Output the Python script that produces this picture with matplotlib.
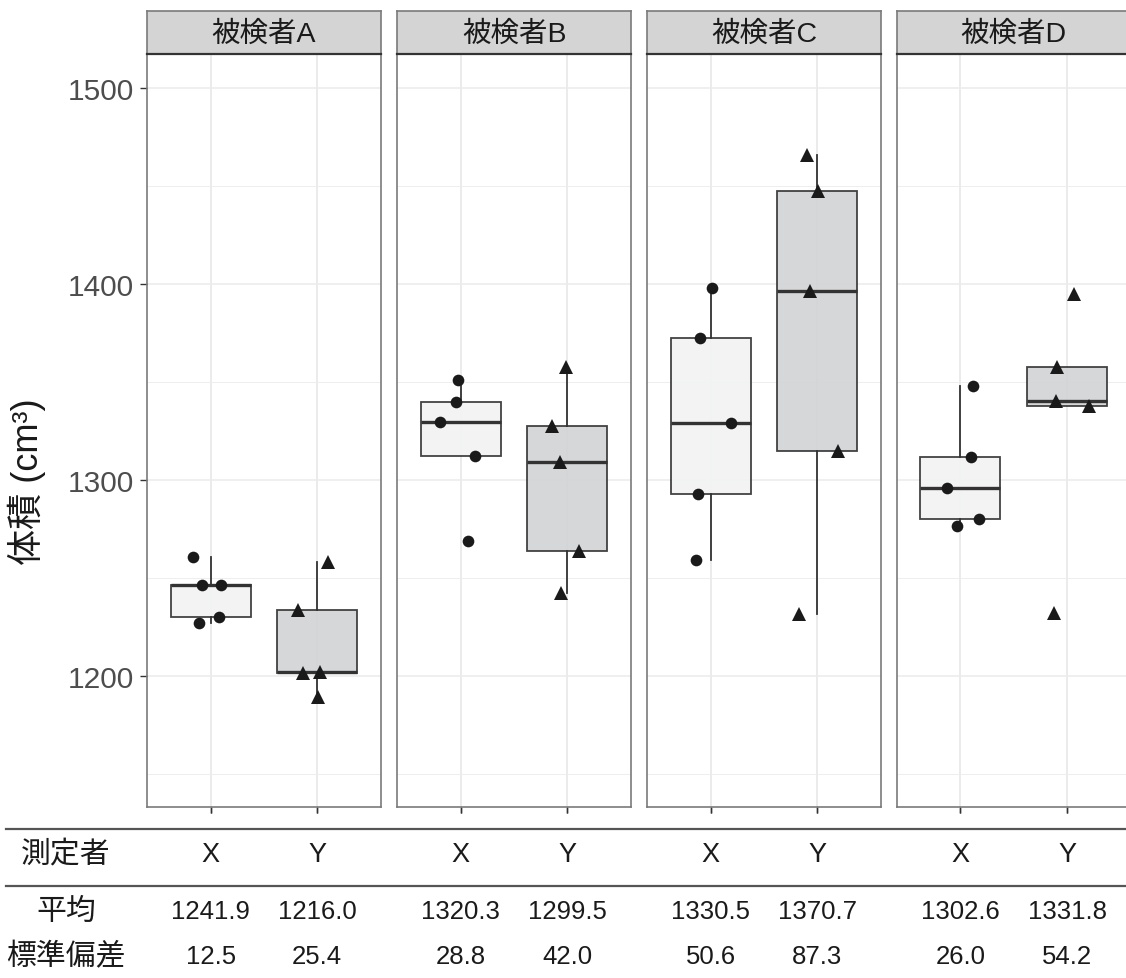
import matplotlib
matplotlib.use("Agg")
import matplotlib.pyplot as plt
from matplotlib.lines import Line2D
from matplotlib.transforms import blended_transform_factory
from matplotlib.ticker import MultipleLocator

plt.rcParams['font.family'] = ['Liberation Sans', 'Noto Sans CJK JP', 'DejaVu Sans']

# ---------------- data ----------------
subjects = ['被検者A', '被検者B', '被検者C', '被検者D']
raters = ['X', 'Y']

A_X = [1260.9, 1246.4, 1246.4, 1226.9, 1229.9]
A_Y = [1258.0, 1233.7, 1201.4, 1201.9, 1189.1]
B_X = [1351.0, 1340.0, 1329.8, 1312.4, 1268.7]
B_Y = [1357.5, 1327.4, 1309.0, 1264.0, 1242.2]
C_X = [1398.1, 1372.3, 1329.1, 1293.0, 1259.3]
C_Y = [1465.8, 1447.6, 1396.4, 1315.0, 1231.6]
D_X = [1348.0, 1311.9, 1295.9, 1280.1, 1276.7]
D_Y = [1394.9, 1357.8, 1340.1, 1337.9, 1232.1]

# horizontal jitter of the points (category units)
A_X_jit = [-0.163, -0.079, 0.097, -0.110, 0.081]
A_Y_jit = [0.104, -0.180, -0.136, 0.026, 0.010]
B_X_jit = [-0.030, -0.046, -0.196, 0.132, 0.069]
B_Y_jit = [-0.013, -0.144, -0.069, 0.106, -0.063]
C_X_jit = [0.009, -0.103, 0.190, -0.122, -0.138]
C_Y_jit = [-0.098, 0.010, -0.065, 0.195, -0.168]
D_X_jit = [0.114, 0.101, -0.129, 0.171, -0.033]
D_Y_jit = [0.066, -0.091, -0.106, 0.206, -0.122]

means = [['1241.9', '1216.0'], ['1320.3', '1299.5'], ['1330.5', '1370.7'], ['1302.6', '1331.8']]
sds = [['12.5', '25.4'], ['28.8', '42.0'], ['50.6', '87.3'], ['26.0', '54.2']]

row_labels = ['測定者', '平均', '標準偏差']
y_ticks = [1200, 1300, 1400, 1500]
y_label = '体積 (cm³)'

values = [[A_X, A_Y], [B_X, B_Y], [C_X, C_Y], [D_X, D_Y]]
jitters = [[A_X_jit, A_Y_jit], [B_X_jit, B_Y_jit], [C_X_jit, C_Y_jit], [D_X_jit, D_Y_jit]]

# ---------------- layout ----------------
W, H = 1126, 979
fig = plt.figure(figsize=(W / 100, H / 100), dpi=100)

def fx(px):
    return px / W

def fy(py):
    return 1 - py / H

panel_left = [146.7, 396.9, 646.7, 896.5]
panel_w = 234.5
panel_top, panel_bot = 55.0, 808.3
strip_top = 12.0

box_fill = ['#f2f3f3', '#d3d4d6']
markers = ['o', '^']
msizes = [8.4, 10.2]
dark = '#333333'

axes = []
for i, subj in enumerate(subjects):
    ax = fig.add_axes([fx(panel_left[i]), fy(panel_bot), fx(panel_w),
                       (panel_bot - panel_top) / H])
    axes.append(ax)
    ax.set_xlim(0.4, 2.6)
    ax.set_ylim(1133.0, 1517.3)
    ax.yaxis.set_major_locator(MultipleLocator(100))
    ax.yaxis.set_minor_locator(MultipleLocator(50))
    ax.set_xticks([1, 2])
    ax.grid(True, which='major', color='#ebebeb', lw=1.1, zorder=0)
    ax.grid(True, which='minor', axis='y', color='#ebebeb', lw=0.6, zorder=0)
    ax.set_axisbelow(True)
    for sp in ax.spines.values():
        sp.set_color('#7a7a7a')
        sp.set_linewidth(1.2)
    ax.tick_params(axis='x', which='major', length=4.5, width=1.0, color=dark,
                   labelbottom=False)
    ax.tick_params(axis='y', which='minor', length=0)
    if i == 0:
        ax.tick_params(axis='y', which='major', length=5, width=1.0, color=dark,
                       labelsize=21.5, labelcolor='#4d4d4d', pad=4)
        ax.set_yticks(y_ticks)
        ax.set_yticklabels([str(t) for t in y_ticks])
    else:
        ax.tick_params(axis='y', which='major', length=0, labelleft=False)

    bp = ax.boxplot(values[i], positions=[1, 2], widths=0.75, patch_artist=True,
                    showfliers=False, showcaps=False, whis=1.5,
                    boxprops=dict(edgecolor=dark, linewidth=1.3),
                    whiskerprops=dict(color=dark, linewidth=1.3),
                    medianprops=dict(color=dark, linewidth=2.4),
                    zorder=2)
    for patch, col in zip(bp['boxes'], box_fill):
        patch.set_facecolor(col)
        patch.set_alpha(0.92)
        patch.set_edgecolor(dark)

    for j in range(2):
        xs = [j + 1 + d for d in jitters[i][j]]
        ax.plot(xs, values[i][j], linestyle='none', marker=markers[j],
                markersize=msizes[j], color='#1a1a1a', markeredgewidth=0, zorder=4)

    # strip
    sax = fig.add_axes([fx(panel_left[i]), fy(panel_top), fx(panel_w),
                        (panel_top - strip_top) / H])
    sax.set_facecolor('#d4d4d5')
    sax.set_xticks([])
    sax.set_yticks([])
    for name, sp in sax.spines.items():
        sp.set_color('#7a7a7a')
        sp.set_linewidth(1.2)
    sax.spines['bottom'].set_color(dark)
    sax.spines['bottom'].set_linewidth(1.6)
    sax.text(0.5, 0.47, subj, transform=sax.transAxes, ha='center', va='center',
             fontsize=20.5, color='#1a1a1a')

    # table columns under each category
    tr = blended_transform_factory(ax.transData, fig.transFigure)
    for j in range(2):
        ax.text(j + 1, fy(855), raters[j], transform=tr, ha='center', va='center',
                fontsize=19.5, color='#1a1a1a', clip_on=False)
        ax.text(j + 1, fy(912), means[i][j], transform=tr, ha='center', va='center',
                fontsize=18.5, color='#1a1a1a', clip_on=False)
        ax.text(j + 1, fy(957), sds[i][j], transform=tr, ha='center', va='center',
                fontsize=18.5, color='#1a1a1a', clip_on=False)

# y label
fig.text(fx(27), fy(482), y_label, rotation=90, ha='center', va='center',
         fontsize=26, color='#1a1a1a')

# table rule lines
for yy in (829.5, 887):
    fig.add_artist(Line2D([fx(6), fx(1126)], [fy(yy), fy(yy)], color='#555555',
                          lw=1.6, transform=fig.transFigure))

# row labels
for lab, yy in zip(row_labels, (855, 912, 957)):
    fig.text(fx(66), fy(yy), lab, ha='center', va='center', fontsize=21.5,
             color='#1a1a1a')

fig.savefig('out.png', dpi=100)
